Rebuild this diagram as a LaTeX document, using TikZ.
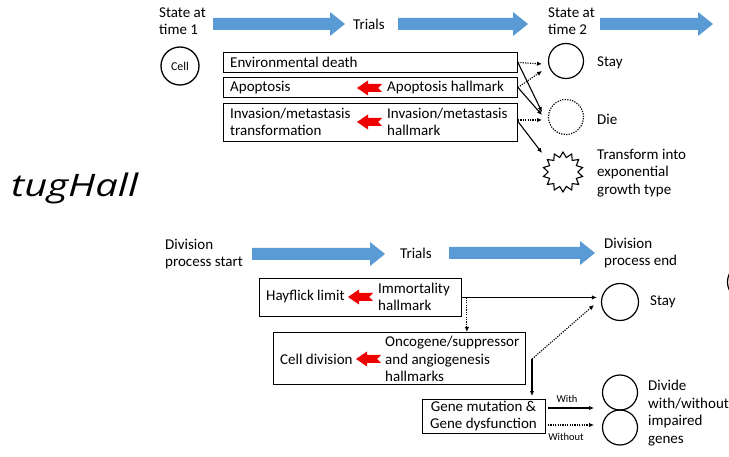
\documentclass[tikz,border=0pt]{standalone}
\usepackage{fontspec}
\setmainfont{Carlito}
\newfontfamily\tugfont{Open Sans}
\usetikzlibrary{arrows.meta,shapes.geometric}
\definecolor{blockblue}{HTML}{5B9BD5}
\definecolor{hallred}{HTML}{EE0000}
\newcommand\blkarrow[3]{\fill[blockblue] (#1,#3-6) -- (#2-15,#3-6) -- (#2-15,#3-12) -- (#2,#3) -- (#2-15,#3+12) -- (#2-15,#3+6) -- (#1,#3+6) -- cycle;}
\newcommand\redarrow[2]{\fill[hallred] (#1,#2) -- (#1+11,#2-7.5) -- (#1+11,#2-4) -- (#1+25,#2-4) -- (#1+21,#2) -- (#1+25,#2+4) -- (#1+11,#2+4) -- (#1+11,#2+7.5) -- cycle;}
\tikzset{
  lbl/.style={font=\fontsize{15}{17.5}\selectfont, align=left, inner sep=0pt, anchor=west},
  small/.style={font=\fontsize{10.5}{12}\selectfont, inner sep=0pt},
  box/.style={draw, line width=0.9pt, inner sep=0pt, anchor=north west},
  cell/.style={draw, circle, line width=1.2pt, inner sep=0pt},
  con/.style={line width=1.1pt, -{Latex[length=5pt,width=4.5pt]}},
  dcon/.style={con, dash pattern=on 1.2pt off 1.2pt},
}
\begin{document}
\begin{tikzpicture}[x=1pt,y=-1pt]
\useasboundingbox (0,0) rectangle (729,457);
\clip (0,0) rectangle (729,457);
% ---------- top part ----------
\node[lbl] (st1) at (159,21) {State at\\time 1};
\blkarrow{213}{345}{24}
\node[lbl] (tr1) at (353,24) {Trials};
\blkarrow{398}{528}{24}
\node[lbl] (st2) at (548,21) {State at\\time 2};
\blkarrow{600}{713}{24}

\node[cell, minimum size=38pt, line width=1.3pt] (cell) at (180,66) {\fontsize{12}{14}\selectfont Cell};

\node[box, minimum width=294pt, minimum height=20pt] (b1) at (223,52) {};
\node[box, minimum width=294pt, minimum height=20pt] (b2) at (223,77) {};
\node[box, minimum width=294pt, minimum height=38pt] (b3) at (223,103) {};
\node[lbl] (t1) at (230,62) {Environmental death};
\node[lbl] (t2a) at (230,88) {Apoptosis};
\redarrow{357}{88}
\node[lbl] (t2b) at (387,88) {Apoptosis hallmark};
\node[lbl] (t3a) at (230,122) {Invasion/metastasis\\transformation};
\redarrow{357}{122}
\node[lbl] (t3b) at (387,122) {Invasion/metastasis\\hallmark};

\node[cell, minimum size=35pt] (stay1) at (566,61) {};
\node[cell, minimum size=35pt, dash pattern=on 1.2pt off 1.3pt] (die1) at (566,117) {};
\node[star, star points=14, star point ratio=1.35, draw, line width=1.1pt, minimum size=40pt, inner sep=0pt] (star) at (563,172) {};
\node[lbl] (stayt1) at (597,63) {Stay};
\node[lbl] (diet) at (597,119) {Die};
\node[lbl] (trt) at (597,173) {Transform into\\exponential\\growth type};

\coordinate (s1a) at (542,64);
\coordinate (s1b) at (542,71);
\coordinate (d1a) at (542,112);
\coordinate (d1b) at (542,115);
\coordinate (d1c) at (542,120);
\coordinate (sta) at (542,153);
\draw[dcon] (b1.east) -- (s1a);
\draw[con] (b1.east) -- (d1a);
\draw[dcon] (b2.east) -- (s1b);
\draw[con] (b2.east) -- (d1b);
\draw[dcon] (b3.north east |- 0,120) -- (d1c);
\draw[con] ([yshift=1pt]b3.east) -- (sta);

% ---------- tugHall ----------
\node[anchor=base west, inner sep=0pt, font=\tugfont\itshape\fontsize{31}{36}\selectfont] (tug) at (11,197) {\scalebox{1.29}[1]{tugHall}};

% ---------- bottom part ----------
\node[lbl] (dps) at (165,254) {Division\\process start};
\blkarrow{252}{385}{254}
\node[lbl] (tr2) at (400,253) {Trials};
\blkarrow{449}{595}{253}
\node[lbl] (dpe) at (604,253) {Division\\process end};

\node[box, minimum width=202pt, minimum height=38pt] (h1) at (259,278) {};
\node[lbl] (hay) at (266,297) {Hayflick limit};
\redarrow{348}{297}
\node[lbl] (imm) at (378,297) {Immortality\\hallmark};

\node[box, minimum width=252pt, minimum height=52pt] (h2) at (273,332) {};
\node[lbl] (cdiv) at (280,359) {Cell division};
\redarrow{356}{359}
\node[lbl] (onc) at (385,359) {Oncogene/suppressor\\and angiogenesis\\hallmarks};

\node[box, minimum width=123pt, minimum height=34pt] (gm) at (422,399) {};
\node[lbl, anchor=center, align=center] (gmt) at (483.5,416) {Gene mutation \&\\Gene dysfunction};

\node[cell, minimum size=37pt] (stay2) at (620,302) {};
\node[cell, minimum size=35pt] (div1) at (620,392.5) {};
\node[cell, minimum size=35pt] (div2) at (620,427.5) {};
\node[cell, minimum size=37pt] (edgec) at (746,282) {};
\node[lbl] (stayt2) at (650,302) {Stay};
\node[lbl] (divt) at (648,413) {Divide\\with/without\\impaired\\genes};

\coordinate (j) at (532,359);
\coordinate (s2in) at (594,305);
\draw[con, shorten >=4pt] (h1.east) -- (h1.east -| stay2.west);
\draw[dcon] ([xshift=5pt]h1.east) -- ([xshift=5pt]h1.east |- h2.north);
\draw[con, shorten >=3pt] (j) -- (j |- gm.north);
\draw[dcon] (j) -- (s2in);
\coordinate (wa) at (548,408);
\coordinate (wb) at (594,408);
\coordinate (woa) at (548,425);
\coordinate (wob) at (594,425);
\draw[con] (wa) -- (wb);
\draw[dcon] (woa) -- (wob);
\node[small] (with) at (567,399) {With};
\node[small] (without) at (566,437) {Without};
\end{tikzpicture}
\end{document}
